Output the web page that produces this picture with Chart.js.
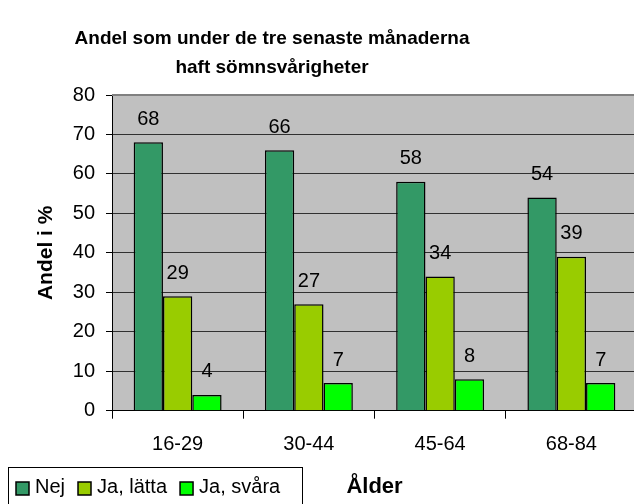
<!DOCTYPE html>
<html><head><meta charset="utf-8">
<script src="https://cdn.jsdelivr.net/npm/chart.js@4"></script>
<style>html,body{margin:0;padding:0;overflow:hidden;background:#fff;width:634px;height:504px}canvas{display:block}</style>
</head><body>
<canvas id="c" width="640" height="504"></canvas>
<script>
const categories = ['16-29', '30-44', '45-64', '68-84'];
const nej = [68, 66, 58, 54];
const jaLatta = [29, 27, 34, 39];
const jaSvara = [4, 7, 8, 7];
const seriesNames = ['Nej', 'Ja, lätta', 'Ja, svåra'];
const seriesColors = ['#339966', '#99CC00', '#00FF00'];
const titleLines = ['Andel som under de tre senaste månaderna', 'haft sömnsvårigheter'];
const yTitle = 'Andel i %';
const xTitle = 'Ålder';
const yMin = 0, yMax = 80, yStep = 10;

const FONT = '"Liberation Sans", Arial, sans-serif';
Chart.defaults.font.family = FONT;
Chart.defaults.color = '#000';

const plotBg = {
  id: 'plotBg',
  beforeDraw(chart) {
    const a = chart.chartArea, ctx = chart.ctx;
    ctx.save();
    ctx.fillStyle = '#C0C0C0';
    ctx.fillRect(a.left, a.top, a.right - a.left, a.bottom - a.top);
    ctx.restore();
  },
  beforeDatasetsDraw(chart) {
    const a = chart.chartArea, ctx = chart.ctx;
    ctx.save();
    ctx.strokeStyle = '#808080';
    ctx.lineWidth = 2;
    ctx.beginPath();
    ctx.moveTo(a.left, a.top);
    ctx.lineTo(a.right, a.top);
    ctx.stroke();
    ctx.restore();
  }
};

const valueLabels = {
  id: 'valueLabels',
  afterDatasetsDraw(chart) {
    const ctx = chart.ctx;
    ctx.save();
    ctx.font = '20px ' + FONT;
    ctx.fillStyle = '#000';
    ctx.textAlign = 'center';
    ctx.textBaseline = 'alphabetic';
    chart.data.datasets.forEach((ds, i) => {
      chart.getDatasetMeta(i).data.forEach((el, j) => {
        ctx.fillText(String(ds.data[j]), el.x, el.y - 17.5);
      });
    });
    ctx.restore();
  }
};

const titlePlugin = {
  id: 'titlePlugin',
  afterDraw(chart) {
    const ctx = chart.ctx;
    ctx.save();
    ctx.font = 'bold 19px ' + FONT;
    ctx.fillStyle = '#000';
    ctx.textAlign = 'center';
    ctx.textBaseline = 'alphabetic';
    ctx.fillText(titleLines[0], 272, 44);
    ctx.fillText(titleLines[1], 272, 73);
    ctx.restore();
  }
};

const legendBox = {
  id: 'legendBox',
  afterDraw(chart) {
    const ctx = chart.ctx;
    ctx.save();
    ctx.strokeStyle = '#000';
    ctx.lineWidth = 1;
    ctx.strokeRect(8.5, 467.5, 294, 50);
    ctx.font = '20px ' + FONT;
    ctx.textBaseline = 'alphabetic';
    ctx.textAlign = 'left';
    let x = 16;
    chart.data.datasets.forEach((ds) => {
      ctx.fillStyle = ds.backgroundColor;
      ctx.fillRect(x, 482, 13, 13);
      ctx.lineWidth = 1.5;
      ctx.strokeRect(x, 482, 13, 13);
      ctx.fillStyle = '#000';
      ctx.fillText(ds.label, x + 19, 493);
      x += 19 + ctx.measureText(ds.label).width + 13;
    });
    ctx.restore();
  }
};

const seriesData = [nej, jaLatta, jaSvara];
new Chart(document.getElementById('c'), {
  type: 'bar',
  data: {
    labels: categories,
    datasets: seriesData.map((d, i) => ({
      label: seriesNames[i],
      data: d,
      backgroundColor: seriesColors[i],
      borderColor: '#000',
      borderWidth: 1.5,
      barPercentage: 1,
      categoryPercentage: 0.67
    }))
  },
  options: {
    responsive: false,
    animation: false,
    devicePixelRatio: 1,
    events: [],
    layout: { padding: { top: 95, right: 3, left: 0, bottom: 0 } },
    plugins: { legend: { display: false }, title: { display: false }, tooltip: { enabled: false } },
    scales: {
      x: {
        grid: { display: true, drawOnChartArea: false, drawTicks: true, tickLength: 8, offset: true, color: '#000' },
        border: { display: true, color: '#000', width: 1 },
        ticks: { font: { size: 20 }, padding: 14, color: '#000' },
        title: { display: true, text: xTitle, font: { size: 22, weight: 'bold' }, padding: { top: 0, bottom: 4 } },
        afterFit(scale) { scale.height = 93.3; }
      },
      y: {
        min: yMin, max: yMax,
        ticks: { stepSize: yStep, font: { size: 20 }, padding: 11, color: '#000' },
        grid: { color: '#303030', lineWidth: 1, tickLength: 6, tickColor: '#000' },
        border: { display: true, color: '#000', width: 1 },
        title: { display: true, text: yTitle, font: { size: 21, weight: 'bold' }, padding: { top: 34 } },
        afterFit(scale) { scale.width = 112; }
      }
    }
  },
  plugins: [plotBg, valueLabels, titlePlugin, legendBox]
});
</script>
</body></html>
